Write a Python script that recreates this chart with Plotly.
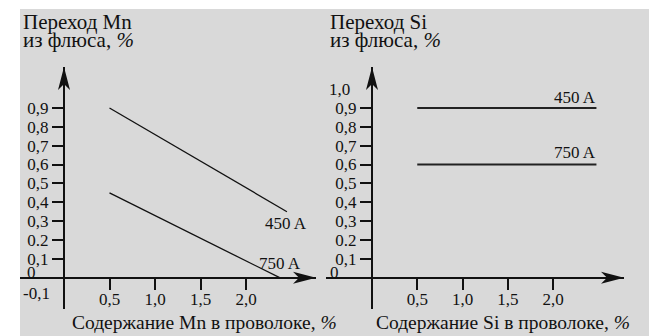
import plotly.graph_objects as go

# ---- data ----
mn_x_450 = [0.5, 2.45]
mn_y_450 = [0.90, 0.35]
mn_x_750 = [0.5, 2.37]
mn_y_750 = [0.45, 0.0]
si_x_450 = [0.5, 2.48]
si_y_450 = [0.90, 0.90]
si_x_750 = [0.5, 2.48]
si_y_750 = [0.60, 0.60]
x_tickvals = [0.5, 1.0, 1.5, 2.0]
x_ticktext = ["0,5", "1,0", "1,5", "2,0"]
y_tickvals = [0.1, 0.2, 0.3, 0.4, 0.5, 0.6, 0.7, 0.8, 0.9]
y_ticktext = ["0,1", "0.2", "0,3", "0,4", "0,5", "0,6", "0,7", "0,8", "0,9"]
series_labels = ["450 A", "750 A"]

W, H = 654, 336
FONT = "Liberation Serif"
INK = "#111111"

def px(v):
    return v / W

def py(v):
    return 1 - v / H

# layout geometry (pixels)
Y0_PX = 277.7      # y = 0 line
Y_SCALE = 188.6    # px per unit
Y_TOP, Y_BOT = 67, 309
L_X0, L_SCALE, L_LEFT, L_RIGHT = 64.0, 91.0, 20, 316
R_X0, R_SCALE, R_LEFT, R_RIGHT = 372.0, 90.5, 326, 624

yrange = [(Y0_PX - Y_BOT) / Y_SCALE, (Y0_PX - Y_TOP) / Y_SCALE]
l_xrange = [(L_LEFT - L_X0) / L_SCALE, (L_RIGHT - L_X0) / L_SCALE]
r_xrange = [(R_LEFT - R_X0) / R_SCALE, (R_RIGHT - R_X0) / R_SCALE]

fig = go.Figure()
line_l = dict(color=INK, width=1.3)
line_r = dict(color="#222222", width=2)
fig.add_trace(go.Scatter(x=mn_x_450, y=mn_y_450, mode="lines", line=line_l, xaxis="x", yaxis="y", showlegend=False, hoverinfo="skip"))
fig.add_trace(go.Scatter(x=mn_x_750, y=mn_y_750, mode="lines", line=line_l, xaxis="x", yaxis="y", showlegend=False, hoverinfo="skip"))
fig.add_trace(go.Scatter(x=si_x_450, y=si_y_450, mode="lines", line=line_r, xaxis="x2", yaxis="y2", showlegend=False, hoverinfo="skip"))
fig.add_trace(go.Scatter(x=si_x_750, y=si_y_750, mode="lines", line=line_r, xaxis="x2", yaxis="y2", showlegend=False, hoverinfo="skip"))

tickfont = dict(family=FONT, size=17, color=INK)
common_x = dict(showgrid=False, zeroline=True, zerolinecolor=INK, zerolinewidth=2,
                showline=False, ticks="outside", ticklen=11, tickwidth=1.5, tickcolor=INK,
                tickvals=x_tickvals, ticktext=x_ticktext, tickfont=tickfont,
                ticklabelstandoff=-5,
                anchor="free", position=py(Y0_PX), fixedrange=True)
common_y = dict(showgrid=False, zeroline=True, zerolinecolor=INK, zerolinewidth=2,
                showline=False, ticks="outside", ticklen=12, tickwidth=2, tickcolor=INK,
                tickvals=y_tickvals, ticktext=y_ticktext, tickfont=tickfont,
                anchor="free", range=yrange, domain=[py(Y_BOT), py(Y_TOP)], fixedrange=True)

fig.update_layout(
    width=W, height=H,
    margin=dict(l=0, r=0, t=0, b=0),
    paper_bgcolor="white", plot_bgcolor="rgba(0,0,0,0)",
    xaxis=dict(common_x, domain=[px(L_LEFT), px(L_RIGHT)], range=l_xrange),
    yaxis=dict(common_y, position=px(L_X0)),
    xaxis2=dict(common_x, domain=[px(R_LEFT), px(R_RIGHT)], range=r_xrange),
    yaxis2=dict(common_y, position=px(R_X0)),
    font=dict(family=FONT, color=INK),
)

shapes = [dict(type="rect", xref="paper", yref="paper", x0=px(20), x1=px(649), y0=0, y1=py(9),
               fillcolor="#d9d9d9", line=dict(width=0), layer="below")]
# arrowheads (pixel-sized, anchored at axis ends)
for xr, yr, xend in (("x", "y", l_xrange[1]), ("x2", "y2", r_xrange[1])):
    shapes.append(dict(type="path", xref=xr, yref=yr, xsizemode="pixel", ysizemode="pixel",
                       xanchor=0, yanchor=yrange[1], path="M0,0 L-6,-23 L0,-17 L6,-23 Z",
                       fillcolor=INK, line=dict(width=0)))
    shapes.append(dict(type="path", xref=xr, yref=yr, xsizemode="pixel", ysizemode="pixel",
                       xanchor=xend, yanchor=0, path="M0,0 L-23,6 L-17,0 L-23,-6 Z",
                       fillcolor=INK, line=dict(width=0)))
fig.update_layout(shapes=shapes)

ann = []
def text(x, y, s, size=17, xanchor="center", yanchor="middle", xref="paper", yref="paper"):
    ann.append(dict(x=x, y=y, text=s, showarrow=False, xref=xref, yref=yref,
                    xanchor=xanchor, yanchor=yanchor, font=dict(family=FONT, size=size, color=INK)))

# panel titles
text(px(21), py(22), "Переход Mn", size=21, xanchor="left")
text(px(21), py(40), "из флюса, <i>%</i>", size=21, xanchor="left")
text(px(328), py(22), "Переход Si", size=21, xanchor="left")
text(px(328), py(40), "из флюса, <i>%</i>", size=21, xanchor="left")
# x titles
text(px(204), py(322), "Содержание Mn в проволоке, <i>%</i>", size=19.5)
text(px(503), py(322), "Содержание Si в проволоке, <i>%</i>", size=19.5)
# special axis labels
text(px(25), py(272), "0", xanchor="left")
text(px(21), py(293), "-0,1", xanchor="left")
text(px(328), py(272), "0", xanchor="left")
text(px(352), 1.0, "1,0", xanchor="right", yref="y2")
# series labels
text(2.44, 0.29, series_labels[0], xref="x", yref="y")
text(2.37, 0.073, series_labels[1], xref="x", yref="y")
text(2.24, 0.958, series_labels[0], xref="x2", yref="y2")
text(2.24, 0.666, series_labels[1], xref="x2", yref="y2")
fig.update_layout(annotations=ann)

fig.write_html("out.html", config={"displayModeBar": False},
               post_script="document.body.style.margin='0';document.body.style.overflow='hidden';")
